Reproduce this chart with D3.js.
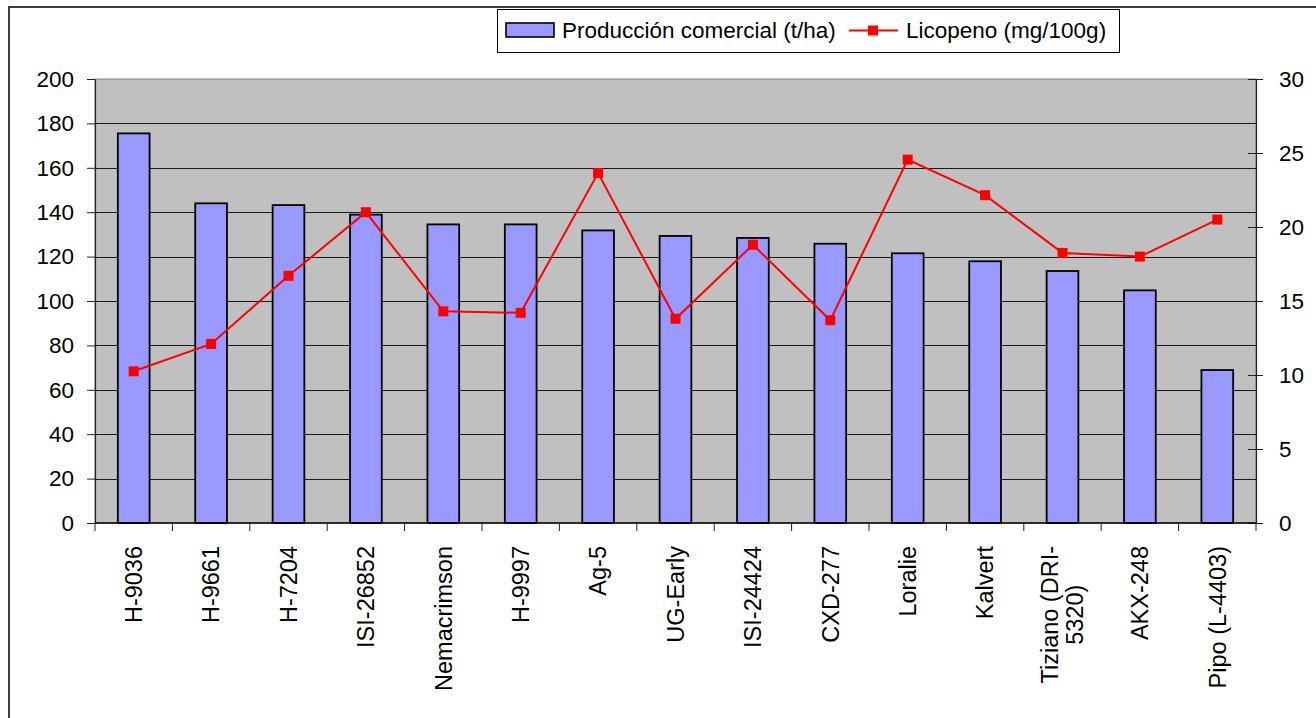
<!DOCTYPE html>
<html>
<head>
<meta charset="utf-8">
<script src="https://cdn.jsdelivr.net/npm/d3@7"></script>
<style>
  html, body { margin: 0; padding: 0; background: #fff; }
  svg { display: block; font-family: "Liberation Sans", Arial, sans-serif; }
</style>
</head>
<body>
<svg id="chart" width="1316" height="718"></svg>
<script>
// ---- data ----
const categories = ["H-9036","H-9661","H-7204","ISI-26852","Nemacrimson","H-9997","Ag-5","UG-Early","ISI-24424","CXD-277","Loralie","Kalvert","Tiziano (DRI-5320)","AKX-248","Pipo (L-4403)"];
const produccion = [175.5, 144.0, 143.2, 138.9, 134.5, 134.5, 131.8, 129.3, 128.4, 125.8, 121.5, 117.9, 113.5, 104.8, 68.9];
const licopeno = [10.25, 12.1, 16.7, 21.0, 14.3, 14.2, 23.65, 13.8, 18.8, 13.7, 24.55, 22.15, 18.25, 18.0, 20.5];
const leftTicks = [0, 20, 40, 60, 80, 100, 120, 140, 160, 180, 200];
const rightTicks = [0, 5, 10, 15, 20, 25, 30];
const seriesNames = ["Producción comercial (t/ha)", "Licopeno (mg/100g)"];
const labelLines = { "Tiziano (DRI-5320)": ["Tiziano (DRI-", "5320)"] };

// ---- layout ----
const svg = d3.select("#chart");
const L = 95, R = 1256, T = 79, B = 523;
const FS = 22.5;
const FSX = 23.5;

// outer border
svg.append("rect").attr("x", 9).attr("y", 7).attr("width", 1330).attr("height", 730)
  .attr("fill", "#fff").attr("stroke", "#000").attr("stroke-width", 1.5);

const x = d3.scaleBand().domain(categories).range([L, R]).paddingInner(0.59).paddingOuter(0.295);
const slot = d3.scaleBand().domain(categories).range([L, R]).padding(0);
const yL = d3.scaleLinear().domain([0, 200]).range([B, T]);
const yR = d3.scaleLinear().domain([0, 30]).range([B, T]);

// plot area
svg.append("rect").attr("x", L).attr("y", T).attr("width", R - L).attr("height", B - T)
  .attr("fill", "#C0C0C0").attr("stroke", "#808080").attr("stroke-width", 1);

// gridlines
svg.append("g").selectAll("line").data(leftTicks.filter(d => d > 0 && d < 200)).join("line")
  .attr("x1", L).attr("x2", R).attr("y1", d => Math.round(yL(d)) + 0.5).attr("y2", d => Math.round(yL(d)) + 0.5)
  .attr("stroke", "#1a1a1a").attr("stroke-width", 1);

// bars
svg.append("g").selectAll("rect").data(categories).join("rect")
  .attr("x", d => x(d)).attr("width", x.bandwidth())
  .attr("y", (d, i) => yL(produccion[i])).attr("height", (d, i) => yL(0) - yL(produccion[i]))
  .attr("fill", "#9999FF").attr("stroke", "#000").attr("stroke-width", 1.8);

// left axis
const gL = svg.append("g").attr("transform", `translate(${L},0)`)
  .call(d3.axisLeft(yL).tickValues(leftTicks).tickSize(8).tickPadding(13).tickSizeOuter(0));
gL.select(".domain").attr("stroke", "#222").attr("stroke-width", 1.2);
gL.selectAll(".tick line").attr("stroke", "#222");
gL.selectAll("text").attr("font-size", FS).attr("fill", "#000").attr("font-family", "Liberation Sans, Arial, sans-serif");

// right axis
const gR = svg.append("g").attr("transform", `translate(${R},0)`)
  .call(d3.axisRight(yR).tickValues(rightTicks).tickSize(7).tickPadding(16).tickSizeOuter(0));
gR.select(".domain").attr("stroke", "#222").attr("stroke-width", 1.2);
gR.selectAll(".tick line").attr("stroke", "#222").attr("x1", -8);
gR.selectAll("text").attr("font-size", FS).attr("fill", "#000").attr("font-family", "Liberation Sans, Arial, sans-serif");

// bottom axis line and ticks at category boundaries
svg.append("line").attr("x1", L).attr("x2", R).attr("y1", B).attr("y2", B).attr("stroke", "#000").attr("stroke-width", 1.5);
const bounds = categories.map(c => slot(c)).concat([R]);
svg.append("g").selectAll("line").data(bounds).join("line")
  .attr("x1", d => d).attr("x2", d => d).attr("y1", B).attr("y2", B + 8)
  .attr("stroke", "#222").attr("stroke-width", 1);

// x labels (rotated)
const labTop = 546;
categories.forEach(c => {
  const cx = slot(c) + slot.bandwidth() / 2;
  const lines = labelLines[c] || [c];
  const g = svg.append("g").attr("transform", `translate(${cx},${labTop}) rotate(-90)`);
  const texts = lines.map((ln, i) => g.append("text").text(ln)
    .attr("font-size", FSX).attr("fill", "#000").attr("dy", "0.35em"));
  const maxLen = d3.max(texts, t => t.node().getComputedTextLength());
  const lh = 25;
  texts.forEach((t, i) => {
    t.attr("text-anchor", "middle").attr("x", -maxLen / 2)
     .attr("y", (i - (lines.length - 1) / 2) * lh);
  });
});

// line series
const lineGen = d3.line().x((d, i) => x(categories[i]) + x.bandwidth() / 2).y(d => yR(d));
svg.append("path").datum(licopeno).attr("d", lineGen)
  .attr("fill", "none").attr("stroke", "#FF0000").attr("stroke-width", 2);
const ms = 10;
svg.append("g").selectAll("rect").data(licopeno).join("rect")
  .attr("x", (d, i) => x(categories[i]) + x.bandwidth() / 2 - ms / 2)
  .attr("y", d => yR(d) - ms / 2).attr("width", ms).attr("height", ms)
  .attr("fill", "#FF0000");

// legend
const lg = svg.append("g");
lg.append("rect").attr("x", 497.5).attr("y", 9.5).attr("width", 622).attr("height", 43)
  .attr("fill", "#fff").attr("stroke", "#000").attr("stroke-width", 1);
lg.append("rect").attr("x", 506).attr("y", 23).attr("width", 48).attr("height", 14)
  .attr("fill", "#9999FF").attr("stroke", "#000").attr("stroke-width", 1.6);
lg.append("text").attr("x", 562).attr("y", 30).attr("dy", "0.35em").attr("font-size", FS).text(seriesNames[0]);
lg.append("line").attr("x1", 849).attr("x2", 898).attr("y1", 30.5).attr("y2", 30.5)
  .attr("stroke", "#FF0000").attr("stroke-width", 2);
lg.append("rect").attr("x", 868).attr("y", 25.5).attr("width", ms).attr("height", ms).attr("fill", "#FF0000");
lg.append("text").attr("x", 906).attr("y", 30).attr("dy", "0.35em").attr("font-size", FS).text(seriesNames[1]);
</script>
</body>
</html>
